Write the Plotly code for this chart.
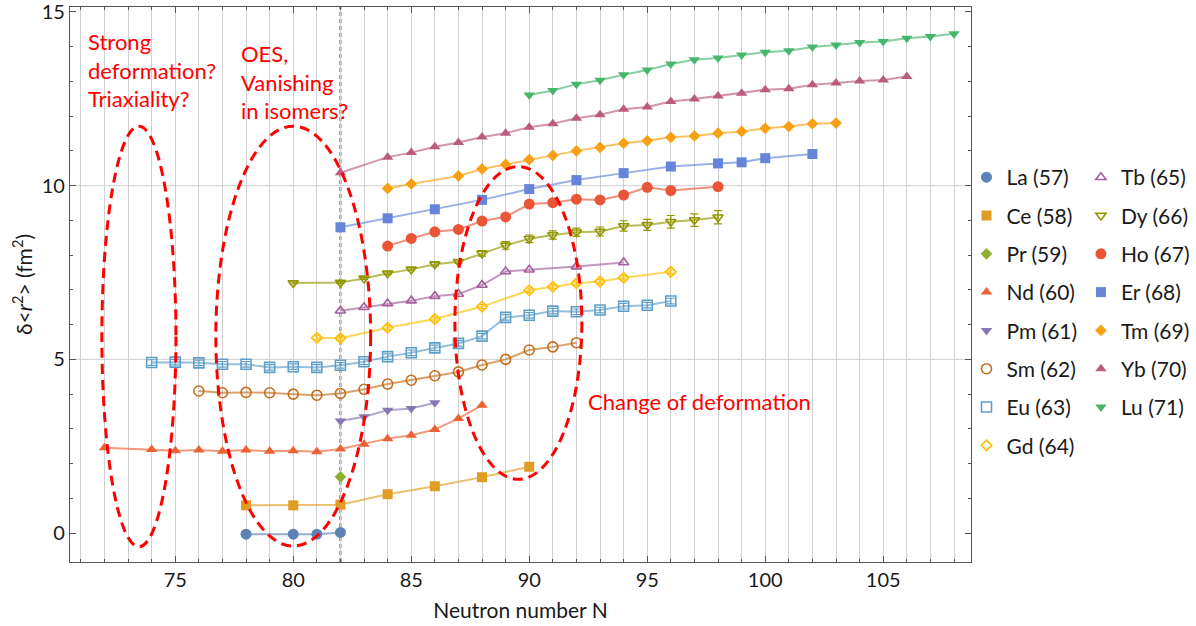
import plotly.graph_objects as go

FONT = "Lato"

# ---------------- data ----------------
la_n = [78, 80, 81, 82]
la_v = [-0.03, -0.03, -0.03, 0.02]

ce_n = [78, 80, 82, 84, 86, 88, 90]
ce_v = [0.80, 0.80, 0.82, 1.12, 1.35, 1.61, 1.91]

pr_n = [82]
pr_v = [1.62]

nd_n = [72, 74, 75, 76, 77, 78, 79, 80, 81, 82, 83, 84, 85, 86, 87, 88]
nd_v = [2.46, 2.41, 2.37, 2.39, 2.36, 2.39, 2.36, 2.37, 2.34, 2.42, 2.56, 2.72, 2.82, 2.98, 3.30, 3.68]

pm_n = [82, 83, 84, 85, 86]
pm_v = [3.23, 3.35, 3.54, 3.59, 3.75]

sm_n = [76, 77, 78, 79, 80, 81, 82, 83, 84, 85, 86, 87, 88, 89, 90, 91, 92]
sm_v = [4.09, 4.04, 4.05, 4.04, 4.00, 3.97, 4.02, 4.14, 4.29, 4.40, 4.53, 4.64, 4.84, 5.00, 5.27, 5.36, 5.48]

eu_n = [74, 75, 76, 77, 78, 79, 80, 81, 82, 83, 84, 85, 86, 87, 88, 89, 90, 91, 92, 93, 94, 95, 96]
eu_v = [4.91, 4.92, 4.90, 4.86, 4.86, 4.77, 4.79, 4.77, 4.83, 4.93, 5.08, 5.19, 5.33, 5.46, 5.67,
        6.21, 6.27, 6.39, 6.37, 6.42, 6.53, 6.56, 6.68]
eu_e = [0.08] * len(eu_n)

gd_n = [81, 82, 84, 86, 88, 90, 91, 92, 93, 94, 96]
gd_v = [5.62, 5.61, 5.91, 6.16, 6.52, 6.99, 7.09, 7.19, 7.24, 7.35, 7.52]
gd_e = [0.06] * len(gd_n)

tb_n = [82, 83, 84, 85, 86, 87, 88, 89, 90, 92, 94]
tb_v = [6.40, 6.50, 6.61, 6.69, 6.82, 6.88, 7.14, 7.53, 7.58, 7.67, 7.79]

dy_n = [80, 82, 83, 84, 85, 86, 87, 88, 89, 90, 91, 92, 93, 94, 95, 96, 97, 98]
dy_v = [7.20, 7.21, 7.33, 7.48, 7.59, 7.74, 7.81, 8.05, 8.28, 8.47, 8.58, 8.66, 8.68, 8.84, 8.87, 8.96, 9.01, 9.09]
dy_e = [0.03, 0.03, 0.03, 0.04, 0.04, 0.05, 0.05, 0.08, 0.11, 0.11, 0.12, 0.12, 0.13, 0.15, 0.16, 0.18, 0.18, 0.19]

ho_n = [84, 85, 86, 87, 88, 89, 90, 91, 92, 93, 94, 95, 96, 98]
ho_v = [8.26, 8.48, 8.67, 8.74, 8.98, 9.10, 9.47, 9.51, 9.61, 9.59, 9.73, 9.95, 9.86, 9.97]

er_n = [82, 84, 86, 88, 90, 92, 94, 96, 98, 99, 100, 102]
er_v = [8.80, 9.06, 9.32, 9.59, 9.90, 10.16, 10.36, 10.55, 10.64, 10.67, 10.79, 10.91]

tm_n = [84, 85, 87, 88, 89, 90, 91, 92, 93, 94, 95, 96, 97, 98, 99, 100, 101, 102, 103]
tm_v = [9.92, 10.05, 10.28, 10.48, 10.61, 10.75, 10.87, 11.00, 11.10, 11.22, 11.29, 11.39, 11.43,
        11.51, 11.56, 11.65, 11.70, 11.78, 11.80]

yb_n = [82, 84, 85, 86, 87, 88, 89, 90, 91, 92, 93, 94, 95, 96, 97, 98, 99, 100, 101, 102, 103, 104, 105, 106]
yb_v = [10.37, 10.82, 10.95, 11.12, 11.24, 11.40, 11.51, 11.68, 11.78, 11.94, 12.04, 12.20, 12.26,
        12.42, 12.49, 12.58, 12.66, 12.76, 12.79, 12.90, 12.95, 13.01, 13.04, 13.14]

lu_n = [90, 91, 92, 93, 94, 95, 96, 97, 98, 99, 100, 101, 102, 103, 104, 105, 106, 107, 108]
lu_v = [12.61, 12.74, 12.92, 13.03, 13.19, 13.33, 13.50, 13.62, 13.67, 13.76, 13.84, 13.88, 13.99,
        14.05, 14.12, 14.15, 14.24, 14.29, 14.37]

# ellipse annotations: (center N, center value, half-width N, half-height value)
ellipses = [
    (73.46, 5.66, 1.57, 6.05),
    (80.00, 5.67, 3.28, 6.04),
    (89.54, 6.05, 2.69, 4.50),
]
marker_line_n = 82

# ---------------- styling ----------------
series = [
    # name, N, values, errors, color, symbol, size, legend
    ("La (57)", la_n, la_v, None, "#5E81B5", "circle", 11, "legend"),
    ("Ce (58)", ce_n, ce_v, None, "#E19C24", "square", 10, "legend"),
    ("Pr (59)", pr_n, pr_v, None, "#8FB032", "diamond", 9, "legend"),
    ("Nd (60)", nd_n, nd_v, None, "#EB6235", "triangle-up", 10, "legend"),
    ("Pm (61)", pm_n, pm_v, None, "#8778B3", "triangle-down", 10, "legend"),
    ("Sm (62)", sm_n, sm_v, None, "#C56E1A", "circle-open", 10, "legend"),
    ("Eu (63)", eu_n, eu_v, eu_e, "#5D9EC7", "square-open", 10, "legend"),
    ("Gd (64)", gd_n, gd_v, gd_e, "#FFBF00", "diamond-open", 8, "legend"),
    ("Tb (65)", tb_n, tb_v, None, "#A5609D", "triangle-up-open", 9, "legend2"),
    ("Dy (66)", dy_n, dy_v, dy_e, "#929600", "triangle-down-open", 9, "legend2"),
    ("Ho (67)", ho_n, ho_v, None, "#E95536", "circle", 11, "legend2"),
    ("Er (68)", er_n, er_v, None, "#6685D9", "square", 10, "legend2"),
    ("Tm (69)", tm_n, tm_v, None, "#F89F13", "diamond", 9, "legend2"),
    ("Yb (70)", yb_n, yb_v, None, "#BC5B80", "triangle-up", 10, "legend2"),
    ("Lu (71)", lu_n, lu_v, None, "#47B66D", "triangle-down", 10, "legend2"),
]


def rgba(hexcol, a):
    h = hexcol.lstrip("#")
    r, g, b = int(h[0:2], 16), int(h[2:4], 16), int(h[4:6], 16)
    return f"rgba({r},{g},{b},{a})"


fig = go.Figure()
# connecting lines (no legend entry)
for name, xs, ys, es, col, sym, size, leg in series:
    fig.add_trace(go.Scatter(x=xs, y=ys, mode="lines", line=dict(color=rgba(col, 0.65), width=2),
                             showlegend=False, hoverinfo="skip", legendgroup=name))
# markers (legend entries show markers only)
for name, xs, ys, es, col, sym, size, leg in series:
    open_m = sym.endswith("-open")
    tr = dict(
        x=xs, y=ys, name=name, mode="markers",
        marker=dict(symbol=sym, size=size, color=col,
                    line=dict(color=col, width=1.6 if open_m else 0)),
        legend=leg, legendgroup=name,
    )
    if es is not None:
        tr["error_y"] = dict(type="data", array=es, visible=True, color=col, thickness=1.2, width=4)
    fig.add_trace(go.Scatter(**tr))

shapes = []
for yv in (5, 10):
    shapes.append(dict(type="line", xref="paper", x0=0, x1=1, yref="y", y0=yv, y1=yv,
                       line=dict(color="#d0d0d0", width=1), layer="below"))
shapes.append(dict(type="line", xref="x", x0=marker_line_n, x1=marker_line_n, yref="paper", y0=0, y1=1,
                   line=dict(color="#3a3a3a", width=1.8, dash="4px,3px"), layer="below"))
for cx, cy, rx, ry in ellipses:
    shapes.append(dict(type="circle", xref="x", yref="y", x0=cx - rx, x1=cx + rx, y0=cy - ry, y1=cy + ry,
                       line=dict(color="#FF0000", width=3, dash="10px,6px"), layer="above"))

red_font = dict(family=FONT, size=22, color="#FF0000")
annotations = [
    dict(x=71.22, y=14.59, xref="x", yref="y", text="Strong<br>deformation?<br>Triaxiality?",
         showarrow=False, xanchor="left", yanchor="top", align="left", font=red_font),
    dict(x=77.70, y=14.25, xref="x", yref="y", text="OES,<br>Vanishing<br>in isomers?",
         showarrow=False, xanchor="left", yanchor="top", align="left", font=red_font),
    dict(x=92.40, y=3.80, xref="x", yref="y", text="Change of deformation",
         showarrow=False, xanchor="left", yanchor="middle", align="left", font=red_font),
]

axis_common = dict(
    showline=True, linecolor="#555555", linewidth=1.3, mirror="ticks",
    ticks="inside", ticklen=6, tickwidth=1, tickcolor="#555555",
    zeroline=False, automargin=False, ticklabeloverflow="allow",
    tickfont=dict(family=FONT, size=20, color="#1a1a1a"),
)

legend_font = dict(family=FONT, size=21, color="#1a1a1a")

fig.update_layout(
    width=1196, height=626,
    margin=dict(l=70, r=225, t=7, b=64, autoexpand=False),
    paper_bgcolor="white", plot_bgcolor="white",
    font=dict(family=FONT, size=20, color="#1a1a1a"),
    xaxis=dict(range=[70.54, 108.72], tick0=0, dtick=5, showgrid=True, gridcolor="#d0d0d0", gridwidth=1,
               minor=dict(tick0=0, dtick=1, ticks="inside", ticklen=3, tickcolor="#555555",
                          showgrid=True, gridcolor="#d0d0d0", gridwidth=1),
               title=dict(text="Neutron number N", font=dict(family=FONT, size=21), standoff=13),
               **axis_common),
    yaxis=dict(range=[-0.83, 15.14], tick0=0, dtick=5, showgrid=False,
               minor=dict(tick0=0, dtick=1, ticks="inside", ticklen=3, tickcolor="#555555", showgrid=False),
               title=dict(text="δ&lt;<i>r</i><sup>2</sup>&gt; (fm<sup>2</sup>)", font=dict(family=FONT, size=21),
                          standoff=3),
               **axis_common),
    shapes=shapes,
    annotations=annotations,
    legend=dict(x=0.995, y=0.7296, xanchor="left", yanchor="top", tracegroupgap=8,
                font=legend_font, bgcolor="rgba(0,0,0,0)"),
    legend2=dict(x=1.122, y=0.7296, xanchor="left", yanchor="top", tracegroupgap=8,
                 font=legend_font, bgcolor="rgba(0,0,0,0)"),
    showlegend=True,
)

fig.write_html("out.html", config={"displayModeBar": False},
               post_script="document.body.style.margin='0';document.body.style.overflow='hidden';")
